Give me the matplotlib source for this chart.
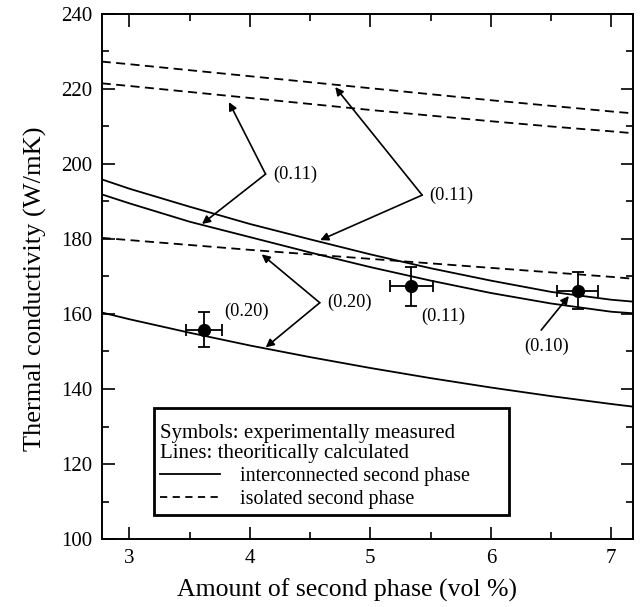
import numpy as np
import matplotlib
matplotlib.use("Agg")
import matplotlib.pyplot as plt
from matplotlib.lines import Line2D
from matplotlib.patches import Rectangle

plt.rcParams['font.family'] = ['Liberation Serif', 'DejaVu Serif']

# x grid for the calculated curves (vol %)
x_calc = [2.77, 3.0, 3.5, 4.0, 4.5, 5.0, 5.5, 6.0, 6.5, 7.0, 7.18]

# interconnected second phase (solid)
solid_a = [195.9, 193.4, 188.6, 184.0, 179.9, 175.9, 172.2, 168.9, 165.9, 163.8, 163.3]
solid_b = [191.9, 189.5, 184.6, 180.5, 176.4, 172.5, 168.9, 165.6, 162.8, 160.6, 160.2]
solid_c = [160.4, 158.6, 155.0, 151.6, 148.5, 145.6, 142.9, 140.4, 138.1, 136.0, 135.3]

# isolated second phase (dashed)
dash_a = [227.3, 226.6, 225.0, 223.4, 221.8, 220.2, 218.6, 217.0, 215.5, 214.0, 213.5]
dash_b = [221.5, 220.8, 219.2, 217.6, 216.0, 214.4, 212.9, 211.4, 210.0, 208.7, 208.2]
dash_c = [180.3, 179.7, 178.4, 177.1, 175.9, 174.7, 173.5, 172.3, 171.1, 169.9, 169.4]

# measured points
x_meas = [3.62, 5.34, 6.72]
y_meas = [155.8, 167.4, 166.2]
x_err = [0.15, 0.18, 0.17]
y_err = [4.6, 5.2, 5.0]

# (label, text position, arrow tips)
notes = [
    ("(0.11)", (4.13, 197.3), [(3.826, 216.5), (3.602, 184.0)]),
    ("(0.11)", (5.43, 191.7), [(4.708, 220.5), (4.583, 179.7)]),
    ("(0.20)", (4.58, 163.0), [(4.098, 175.9), (4.131, 151.1)]),
]
point_labels = [
    ("(0.20)", (3.79, 160.6)),
    ("(0.11)", (5.42, 159.3)),
]

fig = plt.figure(figsize=(6.4, 6.07), dpi=100)
ax = fig.add_axes([0.159, 0.112, 0.83, 0.865])

lw = 1.3
for y in (solid_a, solid_b, solid_c):
    ax.plot(x_calc, y, color='k', lw=lw)
for y in (dash_a, dash_b, dash_c):
    ax.plot(x_calc, y, color='k', lw=lw, dashes=(5, 3))

ax.errorbar(x_meas, y_meas, xerr=x_err, yerr=y_err, fmt='o', color='k',
            ms=8.5, elinewidth=1.3, capsize=4.5, capthick=1.3)

arrow = dict(arrowstyle='-|>', lw=1.2, color='k', mutation_scale=12,
             shrinkA=0, shrinkB=0)
for label, (vx, vy), tips in notes:
    for tip in tips:
        ax.annotate('', xy=tip, xytext=(vx, vy), arrowprops=arrow)
    ax.text(vx + 0.06, vy, label, fontsize=13.2, va='center', ha='left')

for label, pos in point_labels:
    ax.text(pos[0], pos[1], label, fontsize=13.2, va='center', ha='left')

ax.annotate('', xy=(6.648, 164.8), xytext=(6.418, 155.7), arrowprops=arrow)
ax.text(6.46, 151.3, "(0.10)", fontsize=13.2, va='center', ha='center')

ax.set_xlim(2.77, 7.18)
ax.set_ylim(100, 240)
ax.set_xticks([3, 4, 5, 6, 7])
ax.set_xticks(np.arange(3.5, 7.0, 1.0), minor=True)
ax.set_yticks(np.arange(100, 241, 20))
ax.set_yticks(np.arange(110, 240, 20), minor=True)
ax.tick_params(which='both', direction='in', top=True, right=True,
               labelsize=15, width=1.2)
ax.tick_params(which='major', length=9, pad=7)
ax.tick_params(which='minor', length=5)
for s in ax.spines.values():
    s.set_linewidth(1.4)

ax.set_xlabel('Amount of second phase (vol %)', fontsize=18.5)
ax.set_ylabel('Thermal conductivity (W/mK)', fontsize=19)
ax.xaxis.set_label_coords(0.462, -0.075)
ax.yaxis.set_label_coords(-0.103, 0.476)

# legend box: frame drawn separately so it can be a bit taller than the text
box = (0.098, 0.046, 0.668, 0.204)
ax.add_patch(Rectangle(box[:2], box[2], box[3], transform=ax.transAxes,
                       fill=True, facecolor='white', edgecolor='k', lw=2, zorder=4))
handles = [Line2D([], [], color='k', lw=lw),
           Line2D([], [], color='k', lw=lw, dashes=(4, 3))]
leg = ax.legend(handles, ['interconnected second phase', 'isolated second phase'],
                title='Symbols: experimentally measured\nLines: theoritically calculated',
                alignment='left', loc='lower left',
                bbox_to_anchor=(0.098, 0.046, 0.668, 0.2), mode='expand',
                fontsize=14.5, title_fontsize=15, frameon=False,
                handlelength=3.0, handletextpad=1.0,
                borderpad=0.3, labelspacing=0.2, borderaxespad=0)
leg.get_title().set_linespacing(1.05)
leg.set_zorder(5)

fig.savefig('out.png', dpi=100)
